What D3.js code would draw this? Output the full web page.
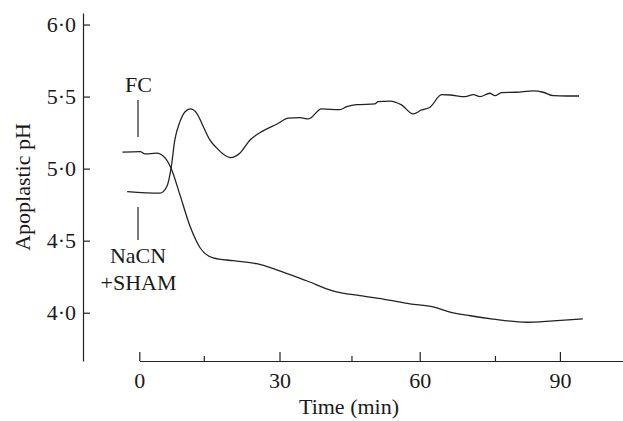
<!DOCTYPE html>
<html>
<head>
<meta charset="utf-8">
<script src="https://cdn.jsdelivr.net/npm/d3@7"></script>
<style>
  body { margin: 0; background: #fff; }
  svg text { font-family: "Liberation Serif", "Times New Roman", serif; fill: #1a1a1a; }
</style>
</head>
<body>
<div id="chart"></div>
<script>
// FC trace (starts high, acidifies)
const fcTime = [-3.6, 0.2, 1.2, 3.7, 5.5, 6.8, 8.7, 10.9, 13.0, 15.8, 20.1, 25.1, 29.4, 35.8, 41.4, 47.2, 52.2, 57.9, 62.9, 66.5, 70.8, 75.7, 82.9, 88.6, 94.9];
const fcPH   = [5.114, 5.118, 5.102, 5.107, 5.075, 5.003, 4.818, 4.596, 4.451, 4.381, 4.361, 4.34, 4.298, 4.222, 4.152, 4.118, 4.095, 4.062, 4.04, 4.005, 3.979, 3.956, 3.934, 3.944, 3.958];

// NaCN + SHAM trace (starts low, alkalinises)
const cnTime = [-2.6, 4.4, 5.9, 6.8, 7.6, 8.7, 9.8, 10.9, 12.3, 13.7, 15.1, 16.6, 18.0, 19.6, 21.5, 23.7, 26.5, 29.4, 31.9, 34.4, 36.2, 39.0, 42.9, 44.4, 46.5, 50.4, 51.1, 53.6, 56.1, 58.6, 60.4, 62.2, 64.7, 66.5, 69.7, 71.5, 72.9, 75.0, 76.1, 77.5, 80.7, 84.3, 86.4, 88.6, 91.4, 94.1];
const cnPH   = [4.841, 4.830, 4.876, 5.003, 5.199, 5.326, 5.395, 5.414, 5.384, 5.291, 5.199, 5.142, 5.1, 5.077, 5.107, 5.199, 5.262, 5.308, 5.35, 5.354, 5.345, 5.414, 5.409, 5.43, 5.444, 5.449, 5.465, 5.468, 5.442, 5.38, 5.407, 5.426, 5.513, 5.511, 5.499, 5.513, 5.499, 5.523, 5.506, 5.527, 5.53, 5.539, 5.53, 5.506, 5.504, 5.504];

const xMajorTicks = [0, 30, 60, 90];
const xMinorTicks = [13.8, 45.4, 76.1];
const yTicks = [4.0, 4.5, 5.0, 5.5, 6.0];

const width = 623, height = 421;

const svg = d3.select('#chart')
  .append('svg')
  .attr('width', width)
  .attr('height', height);

const x = d3.scaleLinear().domain([0, 103.5]).range([139.3, 623]);
const y = d3.scaleLinear().domain([3.665, 6.08]).range([361, 13]);

const fmt = d => d3.format('.1f')(d).replace('.', '\u00b7');

// y axis, ticks pointing inwards
svg.append('g')
  .attr('transform', 'translate(83,0)')
  .call(d3.axisLeft(y).tickValues(yTicks).tickFormat(fmt).tickSizeInner(-7).tickSizeOuter(0).tickPadding(7));

// x axis with upward ticks
svg.append('g')
  .attr('transform', 'translate(0,361)')
  .call(d3.axisBottom(x).tickValues(xMajorTicks).tickFormat(d3.format('d')).tickSizeInner(-9).tickSizeOuter(0).tickPadding(11));

svg.append('g')
  .attr('transform', 'translate(0,361)')
  .call(d3.axisBottom(x).tickValues(xMinorTicks).tickFormat('').tickSizeInner(-5).tickSizeOuter(0))
  .select('.domain').remove();

svg.selectAll('.domain, .tick line').attr('stroke', '#222').attr('stroke-width', 1.2);
svg.selectAll('.tick text').attr('font-size', 22).attr('fill', '#1a1a1a');

// axis titles
svg.append('text')
  .attr('x', 349).attr('y', 414)
  .attr('text-anchor', 'middle')
  .attr('font-size', 22)
  .text('Time (min)');

svg.append('text')
  .attr('transform', 'translate(30,187) rotate(-90)')
  .attr('text-anchor', 'middle')
  .attr('font-size', 22)
  .text('Apoplastic pH');

// traces
const line = d3.line()
  .x(d => x(d[0]))
  .y(d => y(d[1]))
  .curve(d3.curveMonotoneX);

const fcData = fcTime.map((t, i) => [t, fcPH[i]]);
const cnData = cnTime.map((t, i) => [t, cnPH[i]]);

[fcData, cnData].forEach(data => {
  svg.append('path')
    .datum(data)
    .attr('fill', 'none')
    .attr('stroke', '#222')
    .attr('stroke-width', 1.3)
    .attr('d', line);
});

// treatment markers
svg.append('text')
  .attr('x', 138.5).attr('y', 92)
  .attr('text-anchor', 'middle')
  .attr('font-size', 22)
  .text('FC');

svg.append('line')
  .attr('x1', 138).attr('x2', 138)
  .attr('y1', 100).attr('y2', 137)
  .attr('stroke', '#222').attr('stroke-width', 1.2);

svg.append('line')
  .attr('x1', 138).attr('x2', 138)
  .attr('y1', 207).attr('y2', 240)
  .attr('stroke', '#222').attr('stroke-width', 1.2);

svg.append('text')
  .attr('x', 138).attr('y', 263)
  .attr('text-anchor', 'middle')
  .attr('font-size', 22)
  .text('NaCN');

svg.append('text')
  .attr('x', 138.5).attr('y', 290)
  .attr('text-anchor', 'middle')
  .attr('font-size', 22)
  .text('+SHAM');
</script>
</body>
</html>
